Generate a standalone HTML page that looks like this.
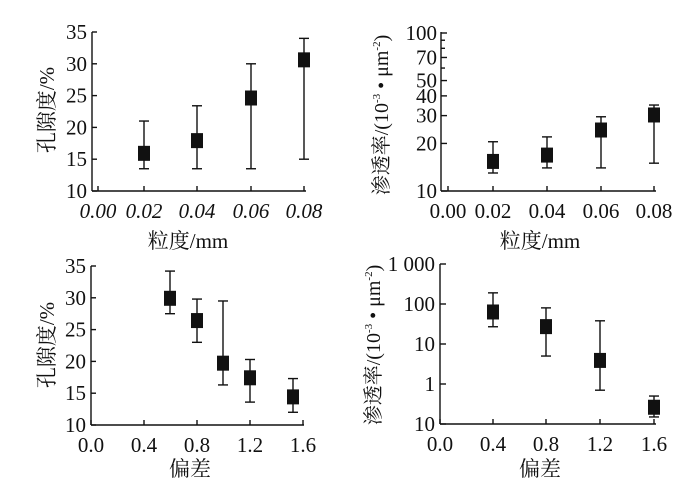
<!DOCTYPE html>
<html><head><meta charset="utf-8"><style>
html,body{margin:0;padding:0;background:#fff;}
svg{display:block;}
text{font-family:"Liberation Serif","Noto Serif CJK SC",serif;fill:#111;}
</style></head><body>
<svg id="s" width="700" height="492" viewBox="0 0 700 492" xmlns="http://www.w3.org/2000/svg"></svg>
<script>
var s=document.getElementById('s'),h='';
function L(x1,y1,x2,y2,w){h+='<line x1="'+x1+'" y1="'+y1+'" x2="'+x2+'" y2="'+y2+'" stroke="#111" stroke-width="'+(w||1.4)+'"/>';}
function T(x,y,t,sz,a,st){h+='<text x="'+x+'" y="'+y+'" font-size="'+sz+'" text-anchor="'+(a||'middle')+'"'+(st||'')+'>'+t+'</text>';}
function pt(x,y,lo,hi){L(x,lo,x,hi);L(x-5,lo,x+5,lo);L(x-5,hi,x+5,hi);h+='<rect x="'+(x-6)+'" y="'+(y-7)+'" width="12" height="15" fill="#111"/>';}
function frame(ax,top,bot,right,xt,xlabels,xticks){L(ax,top,ax,bot);L(ax,bot,right,bot);
 for(var i=0;i<xticks.length;i++){L(xticks[i],bot,xticks[i],bot-5);T(xticks[i],bot+27,xlabels[i],21,'middle',xt);}}
var it=' font-style="italic"';
var yl='渗透率/(10<tspan font-size="11" dy="-8">-3</tspan><tspan dy="8"> • μm</tspan><tspan font-size="11" dy="-8">-2</tspan><tspan dy="8">)</tspan>';
// Panel 1
(function(){var ax=92,b=191,k=6.36;function Y(v){return b-(v-10)*k;}
frame(ax,32,b,306,it,['0.00','0.02','0.04','0.06','0.08'],[98,144,197,251,304]);
for(var v=10;v<=35;v+=5){L(ax,Y(v),ax+5,Y(v));T(ax-5,Y(v)+7,v,21,'end');}
pt(144,Y(16),Y(13.5),Y(21));pt(197,Y(18),Y(13.5),Y(23.4));pt(251,Y(24.7),Y(13.5),Y(30));pt(304,Y(30.7),Y(15),Y(34));
T(188,248,'粒度/mm',21);
h+='<text transform="translate(54,110) rotate(-90)" font-size="21" text-anchor="middle">孔隙度/%</text>';})();
// Panel 2
(function(){var ax=441,b=191,k=158;function Y(v){return b-(Math.log10(v)-1)*k;}
frame(ax,32,b,656,'',['0.00','0.02','0.04','0.06','0.08'],[448,493,547,601,654]);
[10,20,30,40,50,70,100].forEach(function(v){L(ax,Y(v),ax+6,Y(v));T(ax-4,Y(v)+7,v,21,'end');});
[60,80,90].forEach(function(v){L(ax,Y(v),ax+4,Y(v));});
pt(493,Y(15.5),Y(13),Y(20.5));pt(547,Y(17),Y(14),Y(22));pt(601,Y(24.5),Y(14),Y(29.5));pt(654,Y(30.5),Y(15),Y(35));
T(540,248,'粒度/mm',21);
h+='<text transform="translate(388,115) rotate(-90)" font-size="20" text-anchor="middle">'+yl+'</text>';})();
// Panel 3
(function(){var ax=91,b=425,k=6.36;function Y(v){return b-(v-10)*k;}
frame(ax,266,b,304,'',['0.0','0.4','0.8','1.2','1.6'],[91,144,197,250,303]);
for(var v=10;v<=35;v+=5){L(ax,Y(v),ax+5,Y(v));T(ax-5,Y(v)+7,v,21,'end');}
pt(170,Y(30),Y(27.5),Y(34.2));pt(197,Y(26.5),Y(23),Y(29.8));pt(223,Y(19.8),Y(16.3),Y(29.5));pt(250,Y(17.5),Y(13.6),Y(20.3));pt(293,Y(14.5),Y(12),Y(17.3));
T(190,476,'偏差',21);
h+='<text transform="translate(54,345) rotate(-90)" font-size="21" text-anchor="middle">孔隙度/%</text>';})();
// Panel 4
(function(){var ax=440,b=424,k=40;function Y(v){return b-(Math.log10(v)+1)*k;}
frame(ax,264,b,656,'',['0.0','0.4','0.8','1.2','1.6'],[440,493,546,600,654]);
[[1000,'1 000'],[100,'100'],[10,'10'],[1,'1'],[0.1,'10']].forEach(function(p){L(ax,Y(p[0]),ax+6,Y(p[0]));T(ax-5,Y(p[0])+7,p[1],21,'end');});
pt(493,Y(65),Y(27),Y(190));pt(546,Y(28),Y(5),Y(80));pt(600,Y(4),Y(0.7),Y(38));pt(654,Y(0.27),Y(0.15),Y(0.5));
T(540,476,'偏差',21);
h+='<text transform="translate(380,345) rotate(-90)" font-size="20" text-anchor="middle">'+yl+'</text>';})();
s.innerHTML=h;
</script>
</body></html>
